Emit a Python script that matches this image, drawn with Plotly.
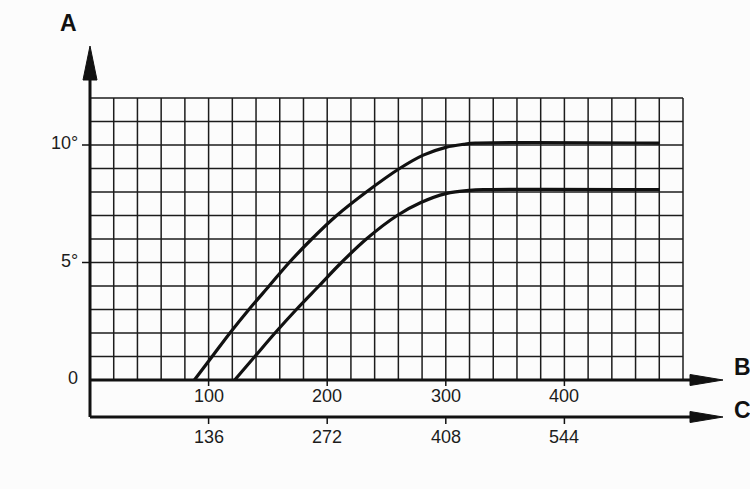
import plotly.graph_objects as go

# ---- data ----
upper_b = [88, 103, 118, 134, 151, 168, 187, 208, 233, 261, 281, 300, 315, 325, 480]
upper_a = [0, 1, 2, 3, 4, 5, 6, 7, 8, 9, 9.57, 9.9, 10.03, 10.08, 10.08]
lower_b = [122, 139, 156, 174, 193, 212, 233, 259, 279, 300, 320, 335, 480]
lower_a = [0, 1, 2, 3, 4, 5, 6, 7, 7.55, 7.93, 8.07, 8.1, 8.1]

b_ticks = [100, 200, 300, 400]
c_labels = ["136", "272", "408", "544"]
a_ticks = [0, 5, 10]
a_labels = ["0", "5°", "10°"]

B_MAX, A_MAX = 500, 12
B_STEP, A_STEP = 20, 1

# ---- pixel geometry ----
W, H = 750, 489
X0, SX = 90.0, 1.186   # px of B=0, px per B unit
Y0, SY = 380.0, 23.5   # px of A=0, px per degree

def bx(px):
    return (px - X0) / SX

def ay(py):
    return (Y0 - py) / SY

INK = "#1c1c1c"
fig = go.Figure()

# grid
gx, gy = [], []
b = 0
while b <= B_MAX:
    gx += [b, b, None]; gy += [0, A_MAX, None]
    b += B_STEP
a = 1
while a <= A_MAX:
    gx += [0, B_MAX, None]; gy += [a, a, None]
    a += A_STEP
fig.add_trace(go.Scatter(x=gx, y=gy, mode="lines", line=dict(color=INK, width=1.5),
                         hoverinfo="skip", showlegend=False))

# curves
for xs, ys in [(upper_b, upper_a), (lower_b, lower_a)]:
    fig.add_trace(go.Scatter(x=xs, y=ys, mode="lines",
                             line=dict(color="#111", width=3.2, shape="spline", smoothing=1.0),
                             hoverinfo="skip", showlegend=False))

c_y = ay(417)
tip_x = bx(723)
# axes lines
fig.add_trace(go.Scatter(x=[0, bx(700), None, 0, bx(700), None, 0, 0],
                         y=[0, 0, None, c_y, c_y, None, c_y, ay(75)],
                         mode="lines", line=dict(color="#111", width=3),
                         hoverinfo="skip", showlegend=False))

# arrowheads
def tri(xs, ys):
    fig.add_trace(go.Scatter(x=xs, y=ys, mode="lines", fill="toself", fillcolor="#111",
                             line=dict(color="#111", width=1), hoverinfo="skip", showlegend=False))

for yy in [0, c_y]:
    tri([bx(690), tip_x, bx(690), bx(690)], [yy + 5.5 / SY, yy, yy - 5.5 / SY, yy + 5.5 / SY])
tri([bx(83), 0, bx(97), bx(83)], [ay(80), ay(46), ay(80), ay(80)])

# tick marks
tx, ty = [], []
for t in b_ticks:
    tx += [t, t, None]; ty += [0, -6 / SY, None]
    tx += [t, t, None]; ty += [c_y, c_y - 7 / SY, None]
for t in a_ticks[1:]:
    tx += [bx(82), 0, None]; ty += [t, t, None]
fig.add_trace(go.Scatter(x=tx, y=ty, mode="lines", line=dict(color="#111", width=1.5),
                         hoverinfo="skip", showlegend=False))

font = dict(family="Liberation Sans, Arial, sans-serif", size=18, color=INK)
ann = []
for t, cl in zip(b_ticks, c_labels):
    ann.append(dict(x=t, y=ay(396), text=str(t), showarrow=False, font=font, xanchor="center", yanchor="middle"))
    ann.append(dict(x=t, y=ay(437), text=cl, showarrow=False, font=font, xanchor="center", yanchor="middle"))
for t, lab in zip(a_ticks, a_labels):
    ann.append(dict(x=bx(80), y=t + 2 / SY, text=lab, showarrow=False, font=font, xanchor="right", yanchor="middle"))

bold = dict(family="Liberation Sans, Arial, sans-serif", size=23, color="#111")
ann.append(dict(x=bx(58), y=ay(23), text="<b>A</b>", showarrow=False, font=bold, xanchor="left", yanchor="middle"))
ann.append(dict(x=bx(732), y=ay(367), text="<b>B</b>", showarrow=False, font=bold, xanchor="left", yanchor="middle"))
ann.append(dict(x=bx(732), y=ay(410), text="<b>C</b>", showarrow=False, font=bold, xanchor="left", yanchor="middle"))

fig.update_layout(
    width=W, height=H, margin=dict(l=0, r=0, t=0, b=0),
    paper_bgcolor="#fcfcfc", plot_bgcolor="#fcfcfc",
    xaxis=dict(range=[bx(0), bx(W)], visible=False, fixedrange=True),
    yaxis=dict(range=[ay(H), ay(0)], visible=False, fixedrange=True),
    annotations=ann, showlegend=False,
)
fig.write_html("out.html", config={"displayModeBar": False},
               post_script="document.body.style.margin='0';document.body.style.overflow='hidden';")
